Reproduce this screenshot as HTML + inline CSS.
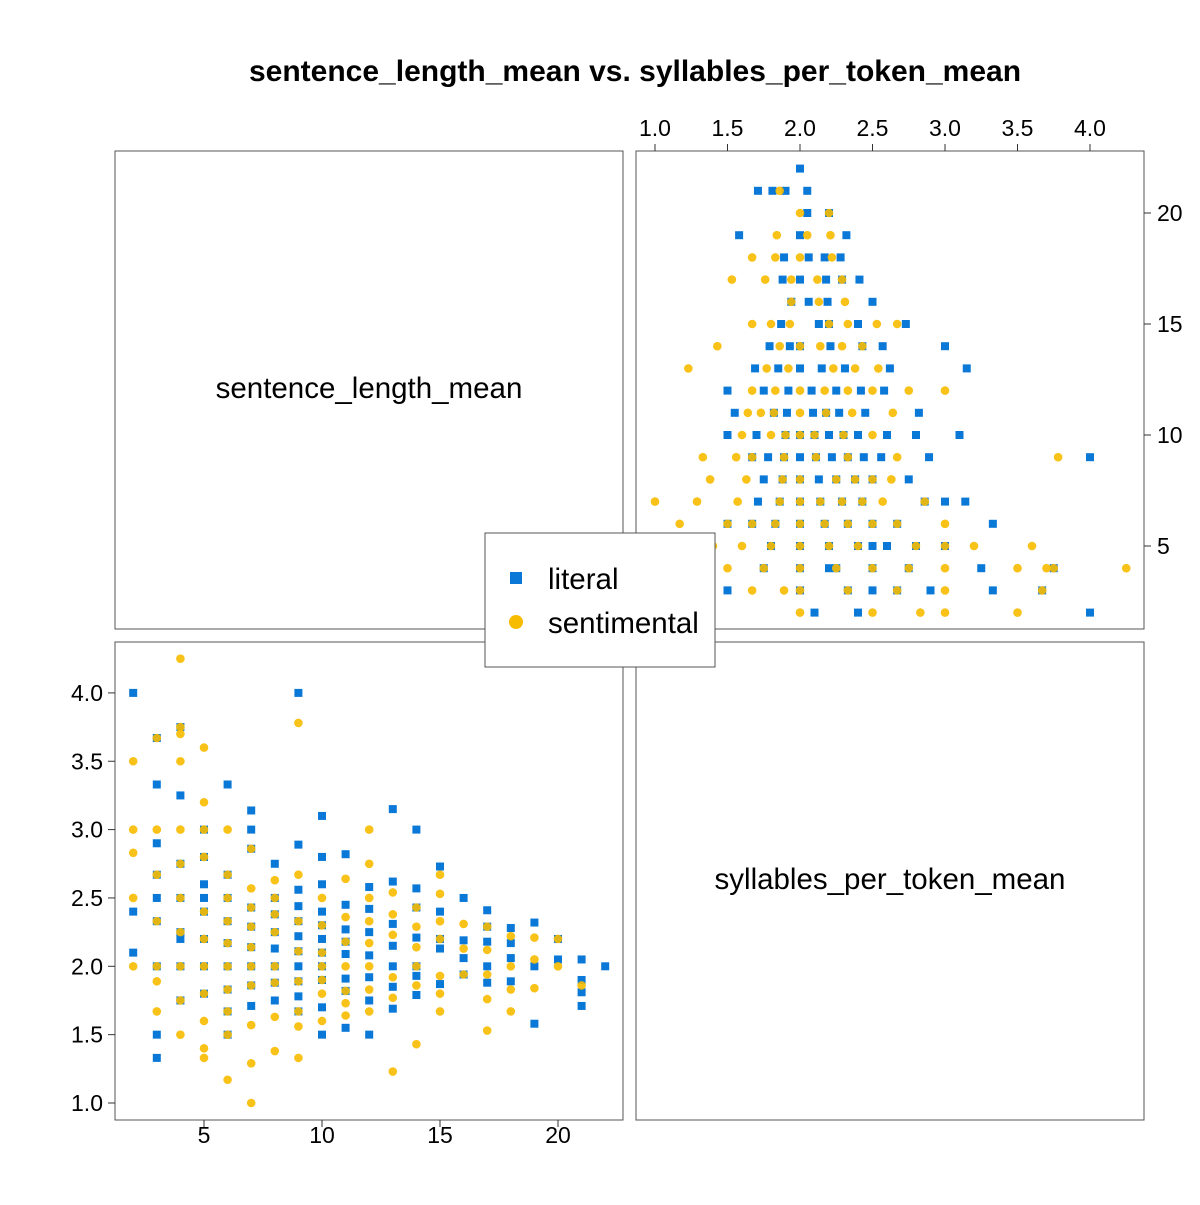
<!DOCTYPE html>
<html><head><meta charset="utf-8"><style>
body{margin:0;background:#fff}
svg{font-family:"Liberation Sans",Arial,sans-serif}
</style></head><body>
<svg id="chart" width="1200" height="1200" viewBox="0 0 1200 1200" xmlns="http://www.w3.org/2000/svg">
<rect width="1200" height="1200" fill="#fff"/>
<text x="635" y="81" font-size="30" font-weight="bold" text-anchor="middle">sentence_length_mean vs. syllables_per_token_mean</text>
<rect x="115" y="151" width="508" height="478" fill="none" stroke="#555" stroke-width="1"/>
<rect x="636" y="151" width="508" height="478" fill="none" stroke="#555" stroke-width="1"/>
<rect x="115" y="642" width="508" height="478" fill="none" stroke="#555" stroke-width="1"/>
<rect x="636" y="642" width="508" height="478" fill="none" stroke="#555" stroke-width="1"/>
<text x="369" y="398" font-size="29.5" text-anchor="middle">sentence_length_mean</text>
<text x="890" y="889" font-size="29.5" text-anchor="middle">syllables_per_token_mean</text>
<g id="axes"></g>
<g id="marks"></g>
<g>
<rect x="485" y="533" width="230" height="134" fill="#fff" stroke="#555"/>
<rect x="510" y="572" width="12" height="12" fill="#0a78d7"/>
<text x="548" y="589" font-size="29.5">literal</text>
<circle cx="516" cy="622" r="7" fill="#f7bb00"/>
<text x="548" y="633" font-size="29.5">sentimental</text>
</g>
</svg>
<script>
const litLen=[2,2,2,3,3,3,3,3,3,3,3,3,4,4,4,4,4,4,4,4,5,5,5,5,5,5,5,5,6,6,6,6,6,6,6,6,6,7,7,7,7,7,7,7,7,7,8,8,8,8,8,8,8,8,9,9,9,9,9,9,9,9,9,9,9,10,10,10,10,10,10,10,10,10,10,10,11,11,11,11,11,11,11,11,12,12,12,12,12,12,12,13,13,13,13,13,13,13,14,14,14,14,14,14,14,15,15,15,15,15,16,16,16,16,17,17,17,17,17,18,18,18,18,19,19,19,20,20,21,21,21,21,22];
const litSyl=[4.0,2.1,2.4,3.67,3.33,2.67,2.33,2.0,1.5,1.33,2.9,2.5,3.25,2.75,2.5,2.25,2.0,1.75,3.75,2.2,2.8,2.6,2.4,2.2,2.0,1.8,3.0,2.5,3.33,2.67,2.5,2.17,2.0,1.83,1.67,1.5,2.33,3.14,2.86,2.43,2.29,2.14,2.0,1.86,1.71,3.0,2.75,2.5,2.38,2.25,2.13,2.0,1.88,1.75,4.0,2.89,2.56,2.44,2.33,2.22,2.11,2.0,1.89,1.78,1.67,3.1,2.8,2.6,2.4,2.3,2.2,2.1,2.0,1.9,1.7,1.5,2.82,2.45,2.27,2.18,2.09,1.91,1.82,1.55,2.58,2.42,2.25,2.08,1.92,1.75,1.5,3.15,2.62,2.31,2.15,2.0,1.85,1.69,3.0,2.57,2.43,2.21,2.0,1.93,1.79,2.73,2.4,2.2,2.13,1.87,2.5,2.19,2.06,1.94,2.41,2.29,2.18,2.0,1.88,2.28,2.17,2.06,1.89,2.32,2.0,1.58,2.2,2.05,2.05,1.9,1.81,1.71,2.0];
const senLen=[2,2,2,2,2,3,3,3,3,3,3,3,4,4,4,4,4,4,4,4,4,4,4,5,5,5,5,5,5,5,5,5,5,5,6,6,6,6,6,6,6,6,6,6,7,7,7,7,7,7,7,7,7,7,8,8,8,8,8,8,8,8,9,9,9,9,9,9,9,9,10,10,10,10,10,10,10,11,11,11,11,11,11,11,12,12,12,12,12,12,12,12,13,13,13,13,13,13,14,14,14,14,14,14,15,15,15,15,15,15,15,16,16,16,17,17,17,17,17,18,18,18,18,19,19,19,20,20,21];
const senSyl=[3.5,3.0,2.83,2.5,2.0,3.67,3.0,2.67,2.33,2.0,1.67,1.89,4.25,3.75,3.5,3.0,2.75,2.5,2.25,2.0,1.75,1.5,3.7,3.6,3.2,3.0,2.8,2.4,2.2,2.0,1.8,1.6,1.4,1.33,3.0,2.67,2.5,2.33,2.17,2.0,1.83,1.67,1.5,1.17,2.86,2.57,2.43,2.29,2.14,2.0,1.86,1.57,1.29,1.0,2.63,2.5,2.38,2.25,2.0,1.88,1.63,1.38,3.78,2.67,2.33,2.11,1.89,1.67,1.56,1.33,2.5,2.3,2.1,2.0,1.9,1.8,1.6,2.64,2.36,2.18,2.0,1.82,1.73,1.64,3.0,2.75,2.5,2.33,2.17,2.0,1.83,1.67,2.54,2.38,2.23,1.92,1.77,1.23,2.43,2.29,2.14,2.0,1.86,1.43,2.67,2.53,2.33,2.2,1.93,1.8,1.67,2.31,2.13,1.94,2.29,2.12,1.94,1.76,1.53,2.22,2.0,1.83,1.67,2.21,2.05,1.84,2.2,2.0,1.86];
const lenTicks=[5,10,15,20];
const sylTicks=[1.0,1.5,2.0,2.5,3.0,3.5,4.0];

const NS="http://www.w3.org/2000/svg";
const trX=v=>655+(v-1)*145, trY=v=>546-(v-5)*22.2;
const blX=v=>204+(v-5)*23.6, blY=v=>1103-(v-1)*136.7;
const axes=document.getElementById('axes'), marks=document.getElementById('marks');
function mk(tag,attrs,parent){const e=document.createElementNS(NS,tag);for(const k in attrs)e.setAttribute(k,attrs[k]);parent.appendChild(e);return e;}
function txt(x,y,s,anchor,name){const t=mk('text',{x:x,y:y,'font-size':23,'text-anchor':anchor},axes);t.textContent=s;

}
sylTicks.forEach(v=>{
  const x=trX(v);
  const l=mk('line',{x1:x,x2:x,y1:151,y2:144,stroke:'#333'},axes);
  
  
  txt(x,136,v.toFixed(1),'middle','top-x-tick-label');
  const y=blY(v);
  const l2=mk('line',{x1:115,x2:108,y1:y,y2:y,stroke:'#333'},axes);
  
  
  txt(103,y+8,v.toFixed(1),'end','left-y-tick-label');
});
lenTicks.forEach(v=>{
  const y=trY(v);
  const l=mk('line',{x1:1144,x2:1151,y1:y,y2:y,stroke:'#333'},axes);
  
  
  txt(1157,y+8,String(v),'start','right-y-tick-label');
  const x=blX(v);
  const l2=mk('line',{x1:x,x2:x,y1:1120,y2:1127,stroke:'#333'},axes);
  
  
  txt(x,1143,String(v),'middle','bottom-x-tick-label');
});
function sq(cx,cy){const r=mk('rect',{x:cx-4,y:cy-4,width:8,height:8,fill:'#0a78d7'},marks);

}
function ci(cx,cy){const c=mk('circle',{cx:cx,cy:cy,r:4.3,fill:'#f7bb00','fill-opacity':0.9},marks);

}
litLen.forEach((L,i)=>{const S=litSyl[i];sq(trX(S),trY(L));sq(blX(L),blY(S));});
senLen.forEach((L,i)=>{const S=senSyl[i];ci(trX(S),trY(L));ci(blX(L),blY(S));});
</script>
</body></html>
